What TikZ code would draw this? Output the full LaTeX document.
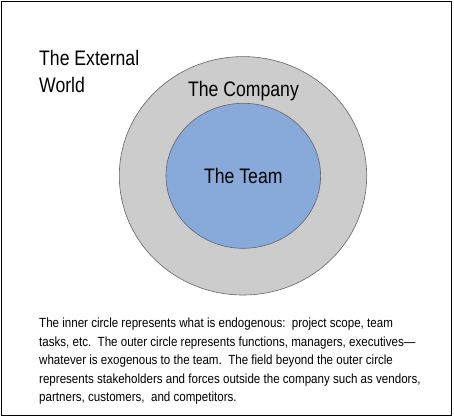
\documentclass[tikz,border=0pt]{standalone}
\usepackage{fontspec}
\setmainfont{Liberation Sans}[FakeStretch=0.84]
\newfontfamily\captionfont{Liberation Sans}[FakeStretch=0.87]
\usetikzlibrary{shapes.geometric}
\definecolor{companygray}{RGB}{204,204,204}
\definecolor{teamblue}{RGB}{135,170,219}
\definecolor{rimgray}{RGB}{100,100,100}
\begin{document}
\begin{tikzpicture}[x=1pt,y=-1pt,
  ring/.style={ellipse,draw=rimgray,line width=0.6pt,inner sep=0pt},
  bigtext/.style={inner sep=0pt,font=\fontsize{21}{27}\selectfont},
  bodytext/.style={inner sep=0pt,align=left,font=\captionfont\fontsize{13.3}{18.5}\selectfont}]
\useasboundingbox (0,0) rectangle (454,417);
\node[draw=black,line width=1.5pt,inner sep=0pt,minimum width=450pt,minimum height=414pt] (frame) at (226.5,208.5) {};
\node[ring,fill=companygray,minimum width=247.4pt,minimum height=238.4pt] (company) at (243,175.8) {};
\node[ring,fill=teamblue,minimum width=154.6pt,minimum height=145pt] (team) at (243.3,175.8) {};
\node[bigtext,anchor=base] (teamlabel) at (243.3,183.3) {The Team};
\node[bigtext,anchor=base] (companylabel) at (243.5,96.5) {The Company};
\node[bigtext,anchor=base west,align=left] (world) at (39,92.5) {The External\\World};
\node[bodytext,anchor=north west] (caption) at (39,318) {The inner circle represents what is endogenous:\ \ project scope, team\\
tasks, etc.\ \ The outer circle represents functions, managers, executives—\\
whatever is exogenous to the team.\ \ The field beyond the outer circle\\
represents stakeholders and forces outside the company such as vendors,\\
partners, customers,\ \ and competitors.};
\end{tikzpicture}
\end{document}
